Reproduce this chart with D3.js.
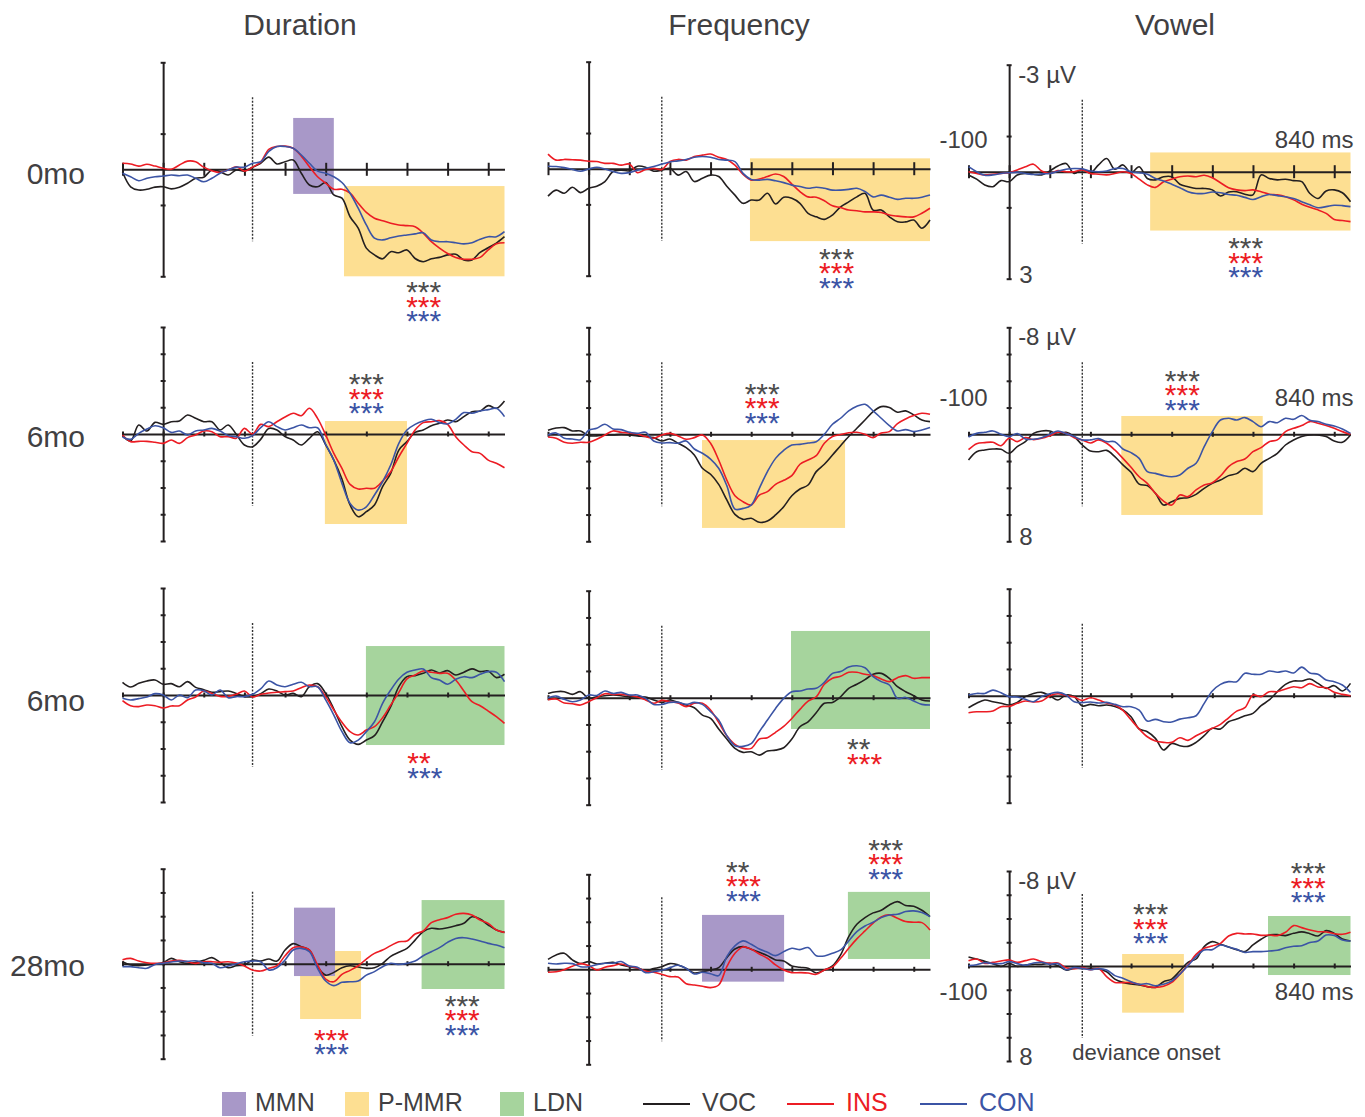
<!DOCTYPE html>
<html>
<head>
<meta charset="utf-8">
<script src="https://cdn.jsdelivr.net/npm/d3@7"></script>
<style>
  body { margin: 0; background: #fff; }
  svg { display: block; }
  text { font-family: 'Liberation Sans', Arial, Helvetica, sans-serif; }
</style>
</head>
<body>
<svg id="chart" width="1365" height="1117"></svg>
<script>
// ---- data (µV, negative plotted up), sampled every 20 ms from -100 to 840 ms ----
const times = d3.range(-100, 841, 20);
const columns = ["Duration", "Frequency", "Vowel"];
const ages = ["0mo", "6mo", "6mo", "28mo"];
const yMax = [3, 8, 8, 8];
const onsets = [220, 180, 180];

// row 0 (0mo)
const d0_voc = [0.07,0.49,0.58,0.56,0.50,0.49,0.55,0.50,0.39,0.25,0.22,0.02,0.07,0.16,0.02,0.05,-0.06,-0.17,-0.34,-0.15,-0.21,-0.26,0.11,0.44,0.49,0.37,0.72,0.81,1.33,1.65,2.21,2.40,2.51,2.31,2.34,2.26,2.50,2.59,2.51,2.47,2.40,2.38,2.54,2.54,2.33,2.20,2.07,1.89];
const d0_ins = [-0.17,-0.15,-0.09,-0.14,-0.09,-0.03,0,-0.12,-0.23,-0.21,-0.06,0.04,0.09,0.02,-0.07,0.05,-0.06,-0.2,-0.56,-0.64,-0.65,-0.59,-0.37,-0.07,0.21,0.39,0.56,0.56,0.67,0.95,1.21,1.37,1.44,1.51,1.56,1.58,1.61,1.79,2.03,2.21,2.36,2.47,2.52,2.52,2.47,2.26,2.09,2.06];
const d0_con = [0.11,0.21,0.32,0.25,0.21,0.19,0.16,0.18,0.16,0.25,0.35,0.25,0.11,0.02,-0.06,-0.06,-0.17,-0.21,-0.5,-0.64,-0.64,-0.59,-0.4,-0.17,0.05,0.11,0.21,0.37,0.67,1.09,1.56,1.93,1.98,1.92,1.87,1.84,1.81,1.78,1.98,2.03,2.03,2.06,2.09,2.06,1.96,1.89,1.89,1.75];
const f0_voc = [0.77,0.6,0.69,0.52,0.67,0.55,0.49,0.36,0.08,0.04,0.06,-0.07,-0.04,0.07,0.04,-0.01,0.18,0.08,0.36,0.27,0.18,0.22,0.49,0.74,0.97,0.88,0.88,0.69,0.99,0.8,0.83,0.97,1.25,1.35,1.42,1.3,1.07,0.93,0.79,0.69,1.16,1.16,1.35,1.49,1.49,1.44,1.67,1.44];
const f0_ins = [-0.41,-0.24,-0.26,-0.25,-0.24,-0.21,-0.2,-0.15,-0.15,-0.1,-0.13,0.11,0.02,-0.01,0.02,-0.2,-0.26,-0.24,-0.34,-0.38,-0.41,-0.32,-0.26,-0.1,0.16,0.32,0.29,0.22,0.15,0.22,0.43,0.64,0.79,0.8,0.9,1.04,1.09,1.16,1.18,1.21,1.21,1.23,1.3,1.33,1.35,1.35,1.25,1.11];
const f0_con = [-0.07,-0.06,-0.03,0.02,0.07,0.01,-0.04,0.01,0.08,0.13,0.11,0.04,-0.01,-0.06,-0.13,-0.19,-0.22,-0.26,-0.32,-0.34,-0.32,-0.26,-0.24,-0.2,0.13,0.3,0.32,0.3,0.34,0.39,0.46,0.5,0.55,0.52,0.55,0.6,0.6,0.58,0.55,0.64,0.79,0.74,0.8,0.86,0.83,0.83,0.8,0.74];
const v0_voc = [0.09,0.21,0.37,0.42,0.25,0.28,0.09,0.05,0.07,0.09,-0.02,-0.16,-0.23,0.05,-0.07,0.03,-0.19,-0.37,-0.07,-0.19,0.03,-0.14,0.19,0.23,0.14,0.14,0.35,0.42,0.47,0.47,0.51,0.68,0.57,0.56,0.63,0.65,0.09,0.19,0.23,0.21,0.25,0.28,0.61,0.75,0.54,0.51,0.59,0.84];
const v0_ins = [0,0.05,0.09,0.07,0.05,0.03,-0.05,-0.14,-0.21,-0.02,0.05,-0.03,0,0,-0.05,0.05,0.07,0.09,0.05,0,0.05,0.21,0.37,0.44,0.28,0.21,0.14,0.12,0.14,0.1,0.17,0.31,0.45,0.51,0.53,0.51,0.56,0.63,0.65,0.7,0.79,0.91,1.0,1.07,1.17,1.34,1.37,1.4];
const v0_con = [-0.14,0,0.1,0.09,0.05,0.03,0.02,0.05,0.08,0.06,0.05,-0.01,-0.07,-0.09,-0.08,-0.02,0,-0.02,-0.09,-0.09,0,0.03,0.07,0.19,0.26,0.35,0.45,0.56,0.61,0.61,0.57,0.59,0.64,0.66,0.72,0.78,0.7,0.64,0.67,0.7,0.75,0.84,0.93,1.01,0.98,0.94,0.95,0.98];

// row 1 (6mo)
const d1_voc = [0.12,0.52,-0.67,-0.22,-0.87,-0.72,-0.92,-0.97,-1.42,-1.17,-0.92,-0.92,-0.3,-0.67,0.02,0.82,0.95,0.4,-0.42,-0.3,0.2,0.45,0.82,0.32,-0.17,0.82,1.95,3.37,5.31,6.18,5.81,5.31,3.94,2.94,1.2,0.57,-0.12,-0.3,-0.62,-0.8,-1.05,-0.92,-1.3,-1.67,-1.72,-2.12,-1.92,-2.47];
const d1_ins = [0.07,0.57,0.55,0.55,0.62,0.7,0.45,0.7,0.27,0.07,-0.22,-0.17,0.2,0.2,0.32,-0.42,0,-0.72,-0.55,-0.92,-1.27,-1.55,-1.37,-1.92,-1.17,0.07,1.45,2.57,3.77,4.11,4.06,4.06,3.52,2.82,1.7,0.7,-0.3,-0.85,-0.92,-1.0,-0.72,0.2,0.82,1.32,1.45,1.95,2.19,2.52];
const d1_con = [0.22,0.4,-0.05,-0.37,-0.62,-0.47,-0.12,-0.22,0.07,-0.22,-0.3,-0.42,-0.22,0.12,0.2,0.32,0.12,-0.47,-0.92,-0.55,-0.3,-0.47,-0.67,-0.47,-0.47,0.77,1.95,3.69,5.19,5.69,5.44,4.56,3.57,2.32,0.7,-0.3,-0.72,-0.97,-1.1,-0.85,-0.75,-1.1,-1.6,-1.55,-1.72,-1.82,-1.92,-1.3];
const f1_voc = [-0.3,-0.47,-0.5,-0.25,-0.25,0.1,0.12,0.05,0.05,0,0.05,0.12,0.17,0.25,0.5,0.35,0.67,1.0,1.55,2.54,2.99,3.74,4.91,5.99,6.36,6.28,6.58,6.48,6.03,5.41,4.59,4.09,3.79,2.79,2.24,1.55,0.85,0.17,-0.45,-1.07,-1.7,-2.07,-2.0,-1.65,-1.75,-1.45,-1.07,-0.95];
const f1_ins = [0.2,0.3,0.6,0.67,0.6,0.6,0.37,0.05,-0.25,-0.15,-0.1,-0.02,0.17,0.3,0.05,-0.07,0.12,0.37,0.25,0.05,0.67,1.92,3.42,4.59,5.04,5.29,4.54,4.29,3.74,3.44,3.09,2.24,1.92,1.6,0.67,0.17,0.02,-0.12,-0.15,0,0.25,-0.1,-0.2,-0.8,-1.15,-1.4,-1.57,-1.5];
const f1_con = [0.05,-0.1,0.3,0.35,0.4,-0.3,-0.45,-0.75,-0.4,-0.35,-0.15,-0.07,-0.15,0.5,0.65,0.62,0.67,0.5,1.1,1.42,1.85,2.54,3.84,5.59,5.54,5.29,4.04,2.79,1.8,1.2,0.8,0.75,0.65,0.55,0,-0.75,-1.2,-1.75,-2.09,-2.24,-1.75,-1.2,-0.65,-0.25,-0.35,-0.2,-0.32,-0.5];
const v1_voc = [1.92,1.3,1.17,1.1,1.12,1.42,0.92,0.55,-0.07,-0.25,-0.25,0,-0.15,0.17,0.8,1.25,1.3,1.2,1.67,2.29,2.84,3.72,3.84,4.41,5.29,5.04,4.79,4.74,4.49,4.04,3.67,3.42,3.09,2.94,2.54,2.79,2.17,1.8,1.42,0.8,0.42,0.17,0.05,0.05,0.17,0.5,0.6,0.05];
const v1_ins = [1.15,0.7,0.62,0.6,0.85,0.3,0.55,0.25,0.4,0.3,0.1,-0.15,-0.07,0.25,0.42,0.65,0.42,0.67,1.17,1.8,2.47,3.17,3.67,4.41,4.99,5.29,4.54,4.66,4.16,3.79,3.62,3.12,2.42,2.04,1.85,1.3,1.0,0.55,0.42,-0.2,-0.45,-0.65,-0.95,-0.82,-0.65,-0.45,-0.2,0];
const v1_con = [0.2,-0.07,-0.15,-0.25,0,0.17,-0.05,0.35,0.37,0.25,0,-0.25,-0.05,0.17,0.42,0.42,0.32,0.55,0.55,1.1,1.37,1.8,2.79,2.92,3.09,3.17,3.04,2.54,2.17,0.92,-0.2,-1.07,-1.2,-1.07,-1.25,-0.95,-0.57,-0.95,-0.87,-1.2,-1.12,-1.4,-1.05,-0.95,-0.75,-0.62,-0.4,-0.07];

// row 2 (6mo)
const d2_voc = [-0.95,-0.6,-0.87,-1.05,-1.12,-0.8,-0.85,-0.62,-1.0,-0.57,-0.4,-0.2,-0.25,-0.3,-0.12,0.12,0.12,-0.1,-0.45,-0.3,0,-0.12,0.12,-0.62,-0.85,-0.12,1.05,2.37,3.37,3.69,3.37,3.04,2.0,0.87,-0.62,-1.37,-1.45,-1.62,-1.87,-1.65,-1.82,-1.5,-1.7,-1.95,-1.75,-1.8,-1.3,-1.55];
const d2_ins = [0.42,0.8,0.87,0.75,0.8,0.97,0.82,0.8,0.37,0.15,-0.3,-0.12,0.1,0.1,-0.05,-0.3,0.15,-0.05,-0.15,-0.2,-0.25,-0.3,-0.55,-0.75,-0.62,0.12,1.12,2.04,2.74,2.99,2.62,2.37,1.7,0.75,-0.2,-1.2,-1.5,-1.8,-1.7,-1.62,-1.62,-1.12,-0.3,0.5,0.8,1.2,1.62,2.12];
const d2_con = [0.25,0.37,0.27,0.15,-0.1,0,0.37,0,0.2,-0.37,-0.32,0,-0.37,0.2,0.12,0.12,-0.05,-0.45,-1.05,-0.75,-0.62,-0.8,-0.95,-0.62,-0.62,0.37,1.5,2.74,3.57,3.37,2.74,2.0,0.62,-0.37,-1.2,-1.7,-1.87,-1.95,-1.3,-1.12,-0.8,-1.17,-1.37,-1.3,-1.55,-1.75,-1.7,-1.0];
const f2_voc = [-0.32,-0.45,-0.45,-0.25,-0.45,0.05,-0.07,-0.15,-0.2,-0.15,-0.07,-0.07,-0.05,0.17,0.35,0.17,0.35,0.55,0.75,1.3,1.55,2.34,3.09,3.79,4.09,4.04,4.29,3.99,3.92,3.74,3.09,2.17,1.8,1.12,0.42,0.35,-0.07,-0.7,-1.0,-1.35,-1.75,-1.82,-1.45,-0.82,-0.45,-0.15,0.17,0.25];
const f2_ins = [0.15,0.1,0.4,0.45,0.55,0.3,0,-0.3,-0.25,-0.25,-0.17,-0.05,0.17,0.42,0.2,0.3,0.4,0.67,0.42,0.42,0.92,1.85,2.84,3.49,3.79,3.79,3.09,2.99,2.59,2.14,1.55,0.87,0.25,-0.07,-1.0,-1.45,-1.6,-1.9,-1.9,-1.75,-1.65,-1.4,-1.2,-1.5,-1.65,-1.45,-1.5,-1.5];
const f2_con = [0,-0.12,0.12,0.3,0.17,-0.2,-0.17,-0.5,-0.32,-0.4,-0.2,-0.2,0.05,0.5,0.5,0.35,0.35,0.5,0.35,0.5,1.05,1.67,2.84,3.59,3.64,3.44,2.54,1.67,0.8,0.05,-0.45,-0.5,-0.65,-0.7,-1.15,-1.82,-1.95,-2.29,-2.39,-2.24,-1.57,-1.2,-0.95,0.05,-0.02,0.25,0.5,0.55];
const v2_voc = [0.9,0.57,0.32,0.45,0.57,0.7,0.5,0.07,-0.17,-0.25,0,0.32,-0.05,0.07,0.77,0.65,0.75,0.7,0.8,1.07,1.57,2.49,2.69,3.19,4.06,3.57,3.74,3.79,3.49,2.99,2.44,2.49,1.95,1.75,1.5,1.32,0.75,0.32,-0.3,-0.85,-1.1,-1.1,-1.25,-0.92,-0.55,-0.75,-0.35,-0.92];
const v2_ins = [1.27,1.2,1.2,1.15,0.82,0.8,0.57,0.4,0.47,0.4,0,-0.15,-0.02,0.1,0.35,0.15,0.32,0.55,0.7,1.1,1.8,2.49,3.07,3.39,3.49,3.49,3.14,3.34,2.99,2.69,2.44,2.14,1.65,1.15,0.9,-0.05,0.07,-0.3,-0.3,-0.5,-0.67,-0.6,-0.9,-0.65,-0.6,-0.25,-0.1,0];
const v2_con = [-0.05,-0.17,-0.17,-0.42,-0.22,0.07,0.1,0.27,0.45,0.07,-0.15,-0.25,-0.05,0.45,0.52,0.47,0.55,0.5,0.65,0.82,0.82,1.07,1.9,1.77,1.95,1.97,1.75,1.65,1.5,0.57,-0.35,-0.85,-1.05,-1.05,-1.67,-1.6,-1.6,-1.85,-1.75,-1.85,-1.7,-2.14,-1.7,-1.6,-1.17,-1.05,-0.8,-0.25];

// row 3 (28mo)
const d3_voc = [-0.17,0.11,0.17,0.11,0.03,-0.08,-0.45,-0.17,-0.03,-0.11,-0.28,-0.51,-0.11,0.34,0.17,0.11,-0.31,-0.22,-0.39,-0.22,-1.15,-1.69,-1.43,-1.15,0.25,0.96,0.73,0.34,0.17,0.28,0.39,0.34,-0.03,-0.62,-0.96,-1.29,-1.99,-2.7,-2.98,-2.92,-3.03,-3.2,-3.4,-3.96,-3.76,-3.26,-2.84,-2.64];
const d3_ins = [-0.34,-0.45,-0.22,-0.08,-0.03,-0.06,-0.22,-0.28,-0.17,-0.03,-0.17,-0.17,-0.11,-0.17,-0.06,0.2,0.53,0.62,0.39,0.17,-0.67,-1.35,-1.4,-1.15,0.11,1.29,1.52,0.9,0.56,0.17,-0.39,-0.87,-1.15,-1.52,-1.85,-1.91,-2.5,-2.75,-3.46,-3.71,-3.88,-4.16,-4.24,-4.1,-3.68,-3.4,-2.84,-2.64];
const d3_con = [0.25,0.25,0.34,0.39,0.06,-0.03,-0.14,-0.22,-0.2,-0.25,-0.08,-0.03,0.34,0.2,0,-0.17,-0.22,-0.17,0.53,0.34,-0.31,-1.15,-1.29,-1.01,0.39,1.46,1.85,1.57,1.52,1.46,0.96,0.67,0.25,-0.03,0.06,-0.03,-0.22,-0.67,-1.01,-1.35,-1.8,-2.13,-2.19,-2.08,-1.91,-1.71,-1.57,-1.35];
const f3_voc = [-0.84,-1.21,-1.35,-0.79,-0.48,-0.65,-0.45,-0.51,-0.59,-0.37,-0.22,-0.11,0.11,-0.06,-0.22,-0.48,-0.37,-0.08,0.31,0.2,0.06,-0.14,-0.98,-1.71,-1.91,-1.69,-1.43,-1.15,-0.79,-0.7,-0.28,-0.17,-0.08,0.31,0.06,-0.28,-1.21,-2.75,-3.79,-4.35,-4.75,-4.97,-5.42,-5.7,-5.37,-5.31,-4.97,-4.44];
const f3_ins = [0.25,0.2,0.03,-0.25,-0.48,-0.31,0.06,-0.17,-0.31,-0.45,-0.25,-0.11,0.14,0.25,0.42,0.62,0.65,1.21,1.32,1.43,1.54,1.32,-0.22,-1.35,-1.88,-1.69,-1.29,-0.93,-0.37,0.06,0.28,0.28,0.31,0.42,0.06,-0.2,-0.93,-1.77,-2.56,-3.23,-3.88,-4.41,-4.58,-4.3,-4.02,-3.96,-3.93,-3.31];
const f3_con = [-0.51,-0.45,-0.51,-0.48,-0.22,-0.22,-0.39,-0.51,-0.51,-0.65,-0.28,-0.17,0.28,0.2,0.08,-0.14,-0.34,-0.08,0.39,0.25,0.37,0.53,-1.07,-1.97,-2.39,-2.11,-1.71,-1.43,-1.15,-1.49,-1.77,-1.66,-1.83,-1.15,-1.12,-1.35,-1.63,-2.39,-3.17,-3.65,-3.96,-4.35,-4.58,-4.63,-4.86,-4.92,-4.78,-4.44];
const v3_voc = [-0.76,-0.59,-0.39,-0.2,0.03,-0.22,0.03,-0.08,-0.14,-0.14,-0.22,-0.03,0.34,0.2,0.22,0.2,0.25,0.48,1.1,1.38,1.52,1.6,1.74,1.8,1.32,1.1,0.42,-0.31,-0.59,-1.63,-2.05,-1.83,-1.6,-1.38,-1.21,-1.77,-2.25,-2.61,-2.64,-2.56,-2.75,-2.87,-2.72,-2.53,-2.98,-2.75,-2.28,-2.11];
const v3_ins = [-0.45,-0.59,-0.22,-0.31,-0.42,-0.51,-0.31,-0.45,-0.59,-0.37,-0.22,-0.25,0.14,0.22,0.14,0.31,0.2,0.9,1.38,1.4,1.4,1.54,1.74,1.8,1.71,1.38,0.7,-0.08,-0.98,-1.49,-1.69,-1.91,-2.53,-2.75,-2.7,-2.7,-2.58,-2.61,-2.56,-2.84,-3.4,-3.23,-3.03,-2.89,-2.87,-2.72,-2.67,-2.84];
const v3_con = [-0.03,-0.11,-0.28,-0.2,-0.2,-0.37,-0.2,-0.06,-0.25,-0.31,-0.14,-0.2,0.31,0.14,0.2,0.31,0.22,0.34,0.81,1.04,1.32,1.54,1.49,1.66,1.54,1.26,0.7,-0.03,-0.79,-1.35,-1.38,-1.77,-1.6,-1.4,-1.15,-1.21,-1.21,-1.26,-1.32,-1.54,-1.66,-1.71,-1.97,-2.11,-2.61,-2.56,-2.19,-2.11];

// analysis windows: [component, t0 ms, t1 ms, µV top, µV bottom]
const windows = [
  [["mmn",320,420,-1.44,0.69],["pmmr",445,840,0.47,3.0]],
  [["pmmr",397,840,-0.29,2.03]],
  [["pmmr",347,840,-0.54,1.65]],
  [["pmmr",398,600,-0.97,6.73]],
  [["pmmr",279,631,0.43,7.0]],
  [["pmmr",276,624,-1.37,6.03]],
  [["ldn",499,840,-3.66,3.74]],
  [["ldn",498,840,-4.99,2.34]],
  [],
  [["pmmr",337,487,-1.07,4.66],["mmn",322,423,-4.72,1.04],["ldn",636,840,-5.36,2.13]],
  [["mmn",279,481,-4.58,1.04],["ldn",638,840,-6.52,-0.87]],
  [["pmmr",278,430,-1.01,3.93],["ldn",637,840,-4.21,0.76]]
];

// significance stars: left edge time, µV of first line, lines of [series, count]
const all3 = [["voc",3],["ins",3],["con",3]];
const stars = [
  [{t:598, v:3.3, rows:all3}],
  [{t:567, v:2.39, rows:all3}],
  [{t:539, v:2.0, rows:all3}],
  [{t:457, v:-4.09, rows:all3}],
  [{t:384, v:-3.39, rows:all3}],
  [{t:383, v:-4.36, rows:all3}],
  [{t:601, v:4.73, rows:[["ins",2],["con",3]]}],
  [{t:636, v:3.48, rows:[["voc",2],["ins",3]]}],
  [],
  [{t:371, v:6.0, rows:[["ins",3],["con",3]]},{t:693, v:3.14, rows:all3}],
  [{t:338, v:-8.64, rows:[["voc",2],["ins",3],["con",3]]},{t:688, v:-10.47, rows:all3}],
  [{t:305, v:-4.8, rows:all3},{t:693, v:-8.23, rows:all3}]
];

const series = [
  [d0_voc,d0_ins,d0_con],[f0_voc,f0_ins,f0_con],[v0_voc,v0_ins,v0_con],
  [d1_voc,d1_ins,d1_con],[f1_voc,f1_ins,f1_con],[v1_voc,v1_ins,v1_con],
  [d2_voc,d2_ins,d2_con],[f2_voc,f2_ins,f2_con],[v2_voc,v2_ins,v2_con],
  [d3_voc,d3_ins,d3_con],[f3_voc,f3_ins,f3_con],[v3_voc,v3_ins,v3_con]
];

// ---- styling / layout ----
const lineColor = { voc: "#231f20", ins: "#ec1c24", con: "#3b54a5" };
const starColor = { voc: "#4d4d4d", ins: "#ec1c24", con: "#3b54a5" };
const boxColor = { mmn: "#a898c8", pmmr: "#fddf92", ldn: "#a6d49d" };
const textGrey = "#414042";
const axisColor = "#231f20";

const colX0 = [122.5, 548, 968.5];
const plotW = 382;
const zeroY = [[169.3,168.7,171.7],[434,434.3,434.3],[695,697.7,695.7],[963.7,969.3,966]];
const halfH = [107, 107, 107, 95];
const xTickLen = [6.5, 2.5, 2.5, 2.5];
const xTicks = [-100, 0, 100, 200, 300, 400, 500, 600, 700, 800];

const svg = d3.select("#chart");
svg.append("rect").attr("width", 1365).attr("height", 1117).attr("fill", "#fff");

// column titles and row labels
svg.selectAll("text.title").data(columns).join("text")
  .attr("class", "title")
  .attr("x", (d, i) => [300, 739, 1175][i]).attr("y", 35)
  .attr("text-anchor", "middle").attr("font-size", 30).attr("fill", textGrey)
  .text(d => d);
svg.selectAll("text.age").data(ages).join("text")
  .attr("class", "age")
  .attr("x", 85).attr("y", (d, i) => [184, 447, 711, 976][i])
  .attr("text-anchor", "end").attr("font-size", 30).attr("fill", textGrey)
  .text(d => d);

series.forEach((trio, idx) => {
  const row = Math.floor(idx / 3), col = idx % 3;
  const x = d3.scaleLinear().domain([-100, 840]).range([colX0[col], colX0[col] + plotW]);
  const zy = zeroY[row][col], m = yMax[row];
  const y = d3.scaleLinear().domain([-m, m]).range([zy - halfH[row], zy + halfH[row]]);
  const g = svg.append("g");

  // analysis windows
  g.selectAll("rect").data(windows[idx]).join("rect")
    .attr("x", d => x(d[1])).attr("width", d => x(d[2]) - x(d[1]))
    .attr("y", d => y(d[3])).attr("height", d => y(d[4]) - y(d[3]))
    .attr("fill", d => boxColor[d[0]]);

  // deviance onset
  g.append("line")
    .attr("x1", x(onsets[col])).attr("x2", x(onsets[col]))
    .attr("y1", zy - 72).attr("y2", zy + 72)
    .attr("stroke", "#333").attr("stroke-width", 1.4).attr("stroke-dasharray", "2,1.5");

  // time axis
  const xa = g.append("g").attr("transform", `translate(0,${zy})`)
    .call(d3.axisBottom(x).tickValues(xTicks).tickSizeOuter(0).tickFormat(""));
  xa.select(".domain").attr("stroke", axisColor).attr("stroke-width", 2);
  xa.selectAll(".tick line").attr("y1", -xTickLen[row]).attr("y2", xTickLen[row])
    .attr("stroke", axisColor).attr("stroke-width", 2);

  // amplitude axis
  const yTicks = row === 0 ? [-3, -1, 1, 3] : [-8, -6, -4, -2, 2, 4, 6, 8];
  const ya = g.append("g").attr("transform", `translate(${x(0)},0)`)
    .call(d3.axisLeft(y).tickValues(yTicks).tickSizeOuter(0).tickFormat(""));
  ya.select(".domain").attr("stroke", axisColor).attr("stroke-width", 2);
  ya.selectAll(".tick line").attr("x1", -2.5).attr("x2", 2.5)
    .attr("stroke", axisColor).attr("stroke-width", 2);

  // waveforms
  const line = d3.line().x((d, i) => x(times[i])).y(d => y(d))
    .curve(d3.curveCatmullRom.alpha(0.5));
  g.selectAll("path.wave").data(trio).join("path")
    .attr("class", "wave")
    .attr("d", line).attr("fill", "none")
    .attr("stroke", (d, i) => lineColor[["voc", "ins", "con"][i]])
    .attr("stroke-width", 1.6).attr("stroke-linejoin", "round");

  // stars: one text per group, one tspan per line
  stars[idx].forEach(s => {
    const st = g.append("text")
      .attr("x", x(s.t)).attr("y", y(s.v) + 15)
      .attr("font-family", "'DejaVu Sans', sans-serif")
      .attr("font-size", 30);
    st.selectAll("tspan").data(s.rows).join("tspan")
      .attr("x", x(s.t)).attr("dy", (d, i) => i === 0 ? 0 : 14.5)
      .attr("fill", d => starColor[d[0]])
      .text(d => "*".repeat(d[1]));
  });

  // scale annotations (Vowel column)
  if (col === 2 && row !== 2) {
    const lab = g.append("g").attr("fill", textGrey).attr("font-size", 24);
    const top = y(-m), bot = y(m);
    const lblY = row === 3 ? zy + 34 : zy - (row === 0 ? 24 : 28);
    lab.append("text").attr("x", x(0) + 9).attr("y", top + 18).text(`-${m} µV`);
    lab.append("text").attr("x", x(0) + 10).attr("y", bot + 4).text(m);
    lab.append("text").attr("x", x(-100) + 19).attr("y", lblY).attr("text-anchor", "end").text("-100");
    lab.append("text").attr("x", x(840) + 3).attr("y", lblY).attr("text-anchor", "end").text("840 ms");
    if (row === 3) {
      lab.append("text").attr("x", x(onsets[col]) - 10).attr("y", 1060)
        .attr("font-size", 22).text("deviance onset");
    }
  }
});

// legend
const legendBoxes = [["mmn", "MMN"], ["pmmr", "P-MMR"], ["ldn", "LDN"]];
const legendLines = [["voc", "VOC"], ["ins", "INS"], ["con", "CON"]];
const boxX = [222, 345, 500], lineX = [643, 787, 920];
const lg = svg.append("g");
lg.selectAll("rect").data(legendBoxes).join("rect")
  .attr("x", (d, i) => boxX[i]).attr("y", 1092).attr("width", 24).attr("height", 24)
  .attr("fill", d => boxColor[d[0]]);
lg.selectAll("text.lb").data(legendBoxes).join("text")
  .attr("class", "lb")
  .attr("x", (d, i) => boxX[i] + 33).attr("y", 1111)
  .attr("font-size", 25).attr("fill", textGrey).text(d => d[1]);
lg.selectAll("line").data(legendLines).join("line")
  .attr("x1", (d, i) => lineX[i]).attr("x2", (d, i) => lineX[i] + 47)
  .attr("y1", 1104).attr("y2", 1104)
  .attr("stroke", d => lineColor[d[0]]).attr("stroke-width", 2);
lg.selectAll("text.ll").data(legendLines).join("text")
  .attr("class", "ll")
  .attr("x", (d, i) => lineX[i] + 59).attr("y", 1111)
  .attr("font-size", 25).attr("fill", d => d[0] === "voc" ? textGrey : lineColor[d[0]])
  .text(d => d[1]);
</script>
</body>
</html>
